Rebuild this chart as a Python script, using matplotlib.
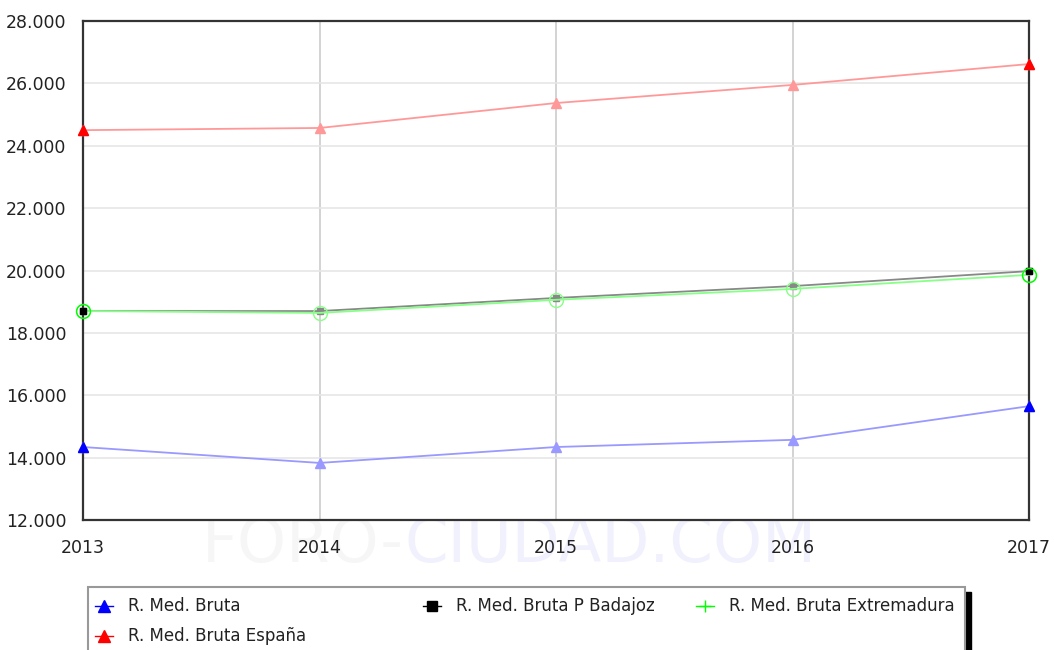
import numpy as np
import matplotlib.pyplot as plt
from matplotlib.lines import Line2D
from matplotlib.patches import Rectangle
from matplotlib.ticker import FuncFormatter

years = [2013, 2014, 2015, 2016, 2017]
bruta = [14340, 13830, 14340, 14570, 15650]
espana = [24500, 24570, 25370, 25950, 26620]
badajoz = [18700, 18700, 19120, 19500, 19980]
extremadura = [18700, 18640, 19060, 19410, 19860]

labels = ["R. Med. Bruta", "R. Med. Bruta España",
          "R. Med. Bruta P Badajoz", "R. Med. Bruta Extremadura"]

W, H = 1054, 650
fig = plt.figure(figsize=(W / 100, H / 100), dpi=100)
ax = fig.add_axes([83 / W, 1 - 520 / H, (1029 - 83) / W, (520 - 21) / H])

####series: light line + light markers, solid end markers
series = [
    (bruta, "#0000ff", "#9999ff", "^", 7, "full"),
    (espana, "#ff0000", "#ff9999", "^", 7, "full"),
    (badajoz, "#000000", "#888888", "s", 5, "full"),
    (extremadura, "#00ff00", "#88ff88", "o", 10, "none"),
]
for vals, solid, light, mk, ms, fill in series:
    ax.plot(years, vals, color=light, linewidth=1.3, marker=mk, markersize=ms,
            fillstyle=fill, markeredgecolor=light, zorder=3, clip_on=False)
    ends = [years[0], years[-1]]
    ax.plot(ends, [vals[0], vals[-1]], linestyle="none", marker=mk, markersize=ms,
            fillstyle=fill, color=solid, markeredgecolor=solid, zorder=4, clip_on=False)

ax.set_xlim(2013, 2017)
ax.set_ylim(12000, 28000)
ax.set_xticks(years)
ax.set_yticks(np.arange(12000, 28001, 2000))
ax.yaxis.set_major_formatter(FuncFormatter(lambda v, p: "{:,.0f}".format(v).replace(",", ".")))
ax.tick_params(axis="both", length=0, labelsize=12.5, colors="#222222")
ax.tick_params(axis="y", pad=12)
ax.tick_params(axis="x", pad=14)
ax.yaxis.grid(True, color="#e6e6e6", linewidth=1.2)
ax.xaxis.grid(True, color="#cccccc", linewidth=1.2)
ax.set_axisbelow(True)
for s in ax.spines.values():
    s.set_color("#333333")
    s.set_linewidth(1.6)

####watermark
fig.text(404 / W, 1 - 545 / H, "FORO-", fontsize=45, color="#f6f6f6",
         ha="right", va="center", zorder=-1)
fig.text(404 / W, 1 - 545 / H, "CIUDAD.COM", fontsize=45, color="#f1f1fe",
         ha="left", va="center", zorder=-1)

####legend box
fig.add_artist(Rectangle((965 / W, -0.05), 6 / W, 1 - 592 / H + 0.05,
                         transform=fig.transFigure, color="black", zorder=5))
fig.add_artist(Rectangle((88 / W, -0.05), (965 - 88) / W, 1 - 587 / H + 0.05,
                         transform=fig.transFigure, facecolor="white",
                         edgecolor="#999999", linewidth=1.5, zorder=6))

leg_items = [
    (104, 606, "#0000ff", "^", 8),
    (104, 636, "#ff0000", "^", 8),
    (432, 606, "#000000", "s", 7),
    (705, 606, "#00ff00", "+", 8),
]
for (x, y, c, mk, ms), lab in zip(leg_items, labels):
    fig.add_artist(Line2D([(x - 9) / W, (x + 9) / W], [1 - y / H, 1 - y / H],
                          transform=fig.transFigure, color=c, linewidth=1, zorder=7))
    fig.add_artist(Line2D([x / W], [1 - y / H], transform=fig.transFigure,
                          color=c, marker=mk, markersize=ms, linestyle="none", zorder=8))
    fig.text((x + 24) / W, 1 - y / H, lab, fontsize=12, color="#222222",
             ha="left", va="center", zorder=8)

plt.savefig("out.png", dpi=100)
